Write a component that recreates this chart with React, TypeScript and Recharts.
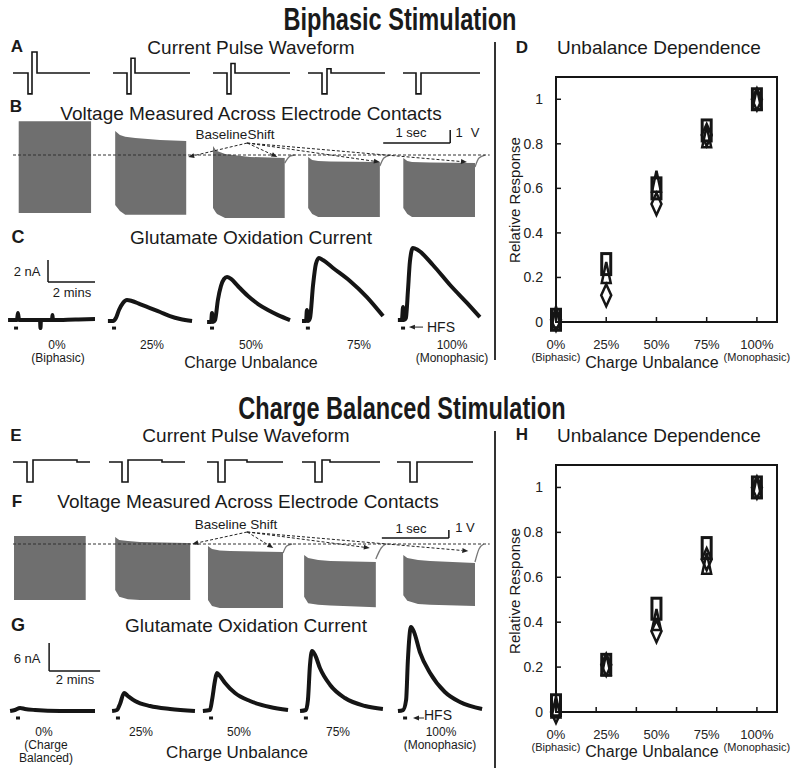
import React from 'react'
import {
  Area,
  ComposedChart,
  Line,
  ReferenceArea,
  ReferenceLine,
  Scatter,
  ScatterChart,
  XAxis,
  YAxis,
} from 'recharts'

const FONT = '"Liberation Sans", Arial, sans-serif'
const INK = '#151515'
const GREY = '#6f6f6f'

// A: biphasic current pulses (t in ms, current relative to the cathodic phase)
const pulseA1 = [[0.3, 0], [1.8, 0], [1.8, -1], [2.2, -1], [2.2, 1], [2.7, 1], [2.7, 0], [8.0, 0]]
const pulseA2 = [[10.3, 0], [11.7, 0], [11.7, -1], [12.1, -1], [12.1, 0.7], [12.5, 0.7], [12.5, 0], [18.0, 0]]
const pulseA3 = [[20.3, 0], [21.7, 0], [21.7, -1], [22.1, -1], [22.1, 0.45], [22.5, 0.45], [22.5, 0], [28.0, 0]]
const pulseA4 = [[29.8, 0], [31.2, 0], [31.2, -1], [31.7, -1], [31.7, 0.2], [32.1, 0.2], [32.1, 0], [37.5, 0]]
const pulseA5 = [[39.3, 0], [40.6, 0], [40.6, -1], [41.1, -1], [41.1, 0], [47.0, 0]]

// E: charge balanced pulses
const pulseE1 = [[0.3, 0], [1.7, 0], [1.7, -1], [2.3, -1], [2.3, 0.1], [6.7, 0.1], [6.7, 0], [8.0, 0]]
const pulseE2 = [[9.9, 0], [11.2, 0], [11.2, -1], [11.8, -1], [11.8, 0.1], [15.2, 0.1], [15.2, 0], [17.5, 0]]
const pulseE3 = [[19.7, 0], [20.8, 0], [20.8, -1], [21.5, -1], [21.5, 0.1], [23.7, 0.1], [23.7, 0], [27.3, 0]]
const pulseE4 = [[29.2, 0], [30.5, 0], [30.5, -1], [31.2, -1], [31.2, 0.1], [32.0, 0.1], [32.0, 0], [37.0, 0]]
const pulseE5 = [[38.7, 0], [40.0, 0], [40.0, -1], [40.7, -1], [40.7, 0], [46.3, 0]]

// B: voltage envelope of the pulse trains [t (s), upper V, lower V]
const voltB1 = [[0.13, 2.6, -4.46], [1.21, 2.6, -4.46]]
const voltB2 = [[1.57, 1.85, -3.85], [1.64, 1.54, -4.3], [1.72, 1.4, -4.6], [1.87, 1.31, -4.6], [2.24, 1.15, -4.6], [2.63, 1.08, -4.6]]
const voltB3 = [[3.03, 0.69, -4.08], [3.07, 0.38, -4.4], [3.09, 0.3, -4.54], [3.21, 0.08, -4.85], [3.58, -0.15, -4.85], [4.1, -0.23, -4.85]]
const voltB4 = [[4.45, -0.15, -4.08], [4.51, -0.38, -4.54], [4.6, -0.46, -4.77], [4.78, -0.5, -4.77], [5.52, -0.54, -4.77]]
const voltB5 = [[5.87, -0.23, -4.08], [5.93, -0.46, -4.54], [6.0, -0.54, -4.77], [6.27, -0.58, -4.77], [6.94, -0.62, -4.77]]
const recoverB3 = [[4.1, -0.62], [4.18, -0.08], [4.25, 0]]
const recoverB4 = [[5.52, -0.85], [5.58, -0.23], [5.67, 0]]
const recoverB5 = [[6.94, -0.92], [7.0, -0.23], [7.09, 0]]
const shiftFromB = [3.54, 0.92]
const shiftToB = [[2.66, -0.15], [3.99, -0.15], [5.52, -0.54], [6.82, -0.54]]

// F: charge balanced voltage envelope
const voltF1 = [[0.06, 1.0, -7.0], [1.13, 1.0, -7.0]]
const voltF2 = [[1.57, 0.875, -5.75], [1.63, 0.5, -6.6], [1.76, 0.375, -6.9], [1.94, 0.25, -7.0], [2.64, 0.125, -7.0], [2.69, 0.125, -7.0]]
const voltF3 = [[2.955, -0.25, -7.0], [3.015, -0.625, -7.75], [3.13, -0.8, -8.0], [3.28, -0.875, -8.0], [4.075, -1.0, -8.0]]
const voltF4 = [[4.39, -1.375, -6.6], [4.45, -1.75, -7.4], [4.6, -2.0, -7.6], [4.78, -2.125, -7.7], [5.46, -2.25, -7.9]]
const voltF5 = [[5.87, -1.375, -6.4], [5.93, -1.75, -7.1], [6.09, -2.0, -7.5], [6.27, -2.125, -7.6], [6.94, -2.375, -7.75]]
const recoverF3 = [[4.075, -1.125], [4.13, -0.25], [4.21, 0]]
const recoverF4 = [[5.46, -1.875], [5.54, -0.5], [5.61, 0]]
const recoverF5 = [[6.94, -2.25], [7.0, -0.625], [7.07, 0]]
const shiftFromF = [3.54, 1.5]
const shiftToF = [[2.72, 0], [3.93, -0.5], [5.37, -0.5], [6.84, -0.875]]

// C: glutamate oxidation current, biphasic [t (min), nA]
const glutC1 = [[0.13, 0], [0.51, 0], [0.55, 0.64], [0.6, 0], [1.49, 0], [1.51, -0.73], [1.53, 0], [2.0, 0], [2.02, 0.45], [2.04, 0], [3.0, 0.05], [3.83, 0.09]]
const glutC2 = [[4.38, -0.09], [4.6, -0.09], [4.72, 0.18], [4.85, 0.91], [5.02, 1.55], [5.19, 1.82], [5.4, 1.73], [5.74, 1.45], [6.17, 1.09], [6.6, 0.73], [7.02, 0.36], [7.45, 0.09], [7.96, -0.09]]
const glutC3 = [[8.6, -0.18], [8.77, -0.18], [8.81, 0.64], [8.85, -0.18], [8.94, 0], [9.06, 1.82], [9.19, 3.09], [9.32, 3.73], [9.45, 3.91], [9.62, 3.73], [9.91, 3.09], [10.34, 2.18], [10.77, 1.45], [11.19, 0.91], [11.62, 0.45], [12.13, 0]]
const glutC4 = [[12.64, -0.09], [12.81, -0.09], [12.85, 0.91], [12.89, -0.09], [12.98, 0.18], [13.11, 3.18], [13.23, 5.09], [13.36, 5.64], [13.53, 5.45], [13.96, 4.73], [14.68, 3.55], [15.4, 2.09], [16.09, 0.36]]
const glutC5 = [[16.72, 0], [16.89, 0], [16.94, 1.18], [16.98, 0], [17.06, 0.18], [17.15, 2.73], [17.23, 5.27], [17.36, 6.55], [17.57, 6.36], [18.21, 5.0], [18.94, 3.18], [19.66, 1.55], [20.21, 0.27]]
const hfsC = [0.47, 4.64, 8.81, 12.89, 16.94]

// G: glutamate oxidation current, charge balanced [t (min), nA]
const glutG1 = [[0.2, 0], [0.39, 0.21], [0.59, 0.64], [0.78, 0.43], [1.18, 0.21], [2.16, 0], [3.53, 0]]
const glutG2 = [[4.2, 0], [4.39, 0.21], [4.51, 1.5], [4.67, 3.85], [4.82, 3.21], [5.1, 2.14], [5.69, 1.07], [6.47, 0.43], [7.45, 0]]
const glutG3 = [[7.76, 0], [8.04, 0.21], [8.12, 2.36], [8.24, 6.64], [8.31, 8.14], [8.43, 7.49], [8.63, 6.0], [9.02, 3.85], [9.61, 2.14], [10.39, 0.86], [11.1, 0.21]]
const glutG4 = [[11.57, 0], [11.8, 0.21], [11.88, 2.36], [11.96, 9.85], [12.04, 12.85], [12.16, 11.99], [12.35, 9.21], [12.75, 5.57], [13.33, 2.78], [14.12, 1.07], [14.82, 0.43]]
const glutG5 = [[15.41, 0], [15.61, 0.21], [15.73, 2.36], [15.8, 10.92], [15.92, 17.99], [16.04, 16.92], [16.27, 12.63], [16.67, 8.14], [17.25, 4.07], [17.84, 1.93], [18.71, 0.43]]
const hfsG = [0.51, 4.43, 8.08, 11.8, 15.69]

// D / H: relative response vs charge unbalance (%)
const unbalance = [0, 25, 50, 75, 100]
const unbalanceLabels = ['0%', '25%', '50%', '75%', '100%']
const dSquares = [0.01, 0.26, 0.6, 0.86, 1.0]
const dTriangles = [0.02, 0.22, 0.63, 0.83, 1.0]
const dDiamonds = [0.01, 0.12, 0.53, 0.84, 1.0]
const hSquares = [0.03, 0.21, 0.46, 0.73, 1.0]
const hTriangles = [0.02, 0.21, 0.41, 0.66, 1.0]
const hDiamonds = [0.0, 0.21, 0.36, 0.68, 1.0]
const responseTicks = [0, 0.2, 0.4, 0.6, 0.8, 1]

const toPath = (segs: number[][][]) =>
  segs.flatMap((s, i) => {
    const rows: { t: number; v: number | null }[] = s.map(([t, v]) => ({ t, v }))
    return i < segs.length - 1 ? [...rows, { t: s[s.length - 1][0] + 0.001, v: null }] : rows
  })

const toBand = (blocks: number[][][]) =>
  blocks.flatMap((b, i) => {
    const rows: { t: number; band: number[] | null }[] = b.map(([t, hi, lo]) => ({ t, band: [lo, hi] }))
    return i < blocks.length - 1 ? [...rows, { t: b[b.length - 1][0] + 0.005, band: null }] : rows
  })

const toPts = (ys: number[]) => unbalance.map((x, i) => ({ x, y: ys[i] }))

const arrowShape = (dashed: boolean) => (p: any) => {
  const { x1, y1, x2, y2 } = p
  const a = Math.atan2(y2 - y1, x2 - x1)
  const bx = x2 - 6 * Math.cos(a)
  const by = y2 - 6 * Math.sin(a)
  const nx = -Math.sin(a) * 2.4
  const ny = Math.cos(a) * 2.4
  return (
    <g>
      <line x1={x1} y1={y1} x2={bx} y2={by} stroke="#222" strokeWidth={1} strokeDasharray={dashed ? '3 2' : undefined} />
      <polygon points={`${x2},${y2} ${bx + nx},${by + ny} ${bx - nx},${by - ny}`} fill="#222" />
    </g>
  )
}

const hfsDot = (p: any) => (
  <rect key={`hfs-${p.index}`} x={p.cx - 2} y={p.cy - 1.5} width={4} height={3} fill={INK} />
)

function Txt({ x, y, s = 13, b = false, sx, rot, children }: any) {
  const tf = `translate(-50%, -50%)${rot ? ` rotate(${rot}deg)` : ''}${sx ? ` scaleX(${sx})` : ''}`
  return (
    <div
      style={{
        position: 'absolute',
        left: x,
        top: y,
        transform: tf,
        fontSize: s,
        fontWeight: b ? 700 : 400,
        whiteSpace: 'nowrap',
        lineHeight: 1,
        fontFamily: FONT,
        color: '#1a1a1a',
      }}
    >
      {children}
    </div>
  )
}

function TraceChart({ left, top, width, height, xMax, yDomain, data, children }: any) {
  return (
    <div style={{ position: 'absolute', left, top }}>
      <ComposedChart width={width} height={height} data={data} margin={{ top: 0, right: 0, bottom: 0, left: 0 }}>
        <XAxis type="number" dataKey="t" domain={[0, xMax]} hide allowDataOverflow />
        <YAxis type="number" domain={yDomain} hide allowDataOverflow />
        {children}
      </ComposedChart>
    </div>
  )
}

function VoltagePanel({ top, height, yDomain, blocks, hooks, from, to, bar }: any) {
  return (
    <TraceChart left={10} top={top} width={480} height={height} xMax={7.164} yDomain={yDomain} data={toBand(blocks)}>
      <Area dataKey="band" type="linear" stroke="none" fill={GREY} fillOpacity={1} isAnimationActive={false} />
      <Line data={toPath(hooks)} dataKey="v" type="monotone" stroke="#777" strokeWidth={1.3} dot={false} isAnimationActive={false} />
      <ReferenceLine segment={[{ x: 0.045, y: 0 }, { x: 7.16, y: 0 }]} stroke="#333" strokeWidth={1} strokeDasharray="3 2" ifOverflow="visible" />
      {to.map((p: number[], i: number) => (
        <ReferenceLine key={i} segment={[{ x: from[0], y: from[1] }, { x: p[0], y: p[1] }]} ifOverflow="visible" shape={arrowShape(true)} />
      ))}
      <ReferenceLine segment={[{ x: bar[0], y: bar[1] }, { x: bar[0] + 1, y: bar[1] }]} stroke={INK} strokeWidth={1.5} ifOverflow="visible" />
      <ReferenceLine segment={[{ x: bar[0] + 1, y: bar[1] }, { x: bar[0] + 1, y: bar[1] + 1 }]} stroke={INK} strokeWidth={1.5} ifOverflow="visible" />
    </TraceChart>
  )
}

function GlutPanel({ top, height, xMax, yDomain, traces, hfs, hfsLevel, arrow, bar }: any) {
  return (
    <TraceChart left={5} top={top} width={485} height={height} xMax={xMax} yDomain={yDomain}>
      <Line data={toPath(traces)} dataKey="v" type="monotone" stroke={INK} strokeWidth={4} strokeLinejoin="round" dot={false} isAnimationActive={false} />
      <Line data={hfs.map((t: number) => ({ t, v: hfsLevel }))} dataKey="v" stroke="none" dot={hfsDot} isAnimationActive={false} />
      <ReferenceLine segment={[{ x: arrow[0], y: hfsLevel + arrow[2] }, { x: arrow[1], y: hfsLevel + arrow[2] }]} ifOverflow="visible" shape={arrowShape(false)} />
      <ReferenceLine segment={[{ x: bar[0], y: bar[1] }, { x: bar[0], y: bar[1] + bar[2] }]} stroke={INK} strokeWidth={1.5} ifOverflow="visible" />
      <ReferenceLine segment={[{ x: bar[0], y: bar[1] }, { x: bar[0] + 2, y: bar[1] }]} stroke={INK} strokeWidth={1.5} ifOverflow="visible" />
    </TraceChart>
  )
}

function PulsePanel({ top, height, yDomain, pulses }: any) {
  return (
    <TraceChart left={10} top={top} width={480} height={height} xMax={48} yDomain={yDomain}>
      <Line data={toPath(pulses)} dataKey="v" type="linear" stroke={INK} strokeWidth={1.6} dot={false} isAnimationActive={false} />
    </TraceChart>
  )
}

const squareShape = (p: any) => (
  <rect x={p.cx - 4.5} y={p.cy - 10.5} width={9} height={21} fill="none" stroke={INK} strokeWidth={3} />
)
const triangleShape = (p: any) => (
  <polygon points={`${p.cx},${p.cy - 11} ${p.cx + 4.5},${p.cy + 10} ${p.cx - 4.5},${p.cy + 10}`} fill="none" stroke={INK} strokeWidth={2.5} />
)
const diamondShape = (p: any) => (
  <polygon points={`${p.cx},${p.cy - 11} ${p.cx + 5},${p.cy} ${p.cx},${p.cy + 11} ${p.cx - 5},${p.cy}`} fill="none" stroke={INK} strokeWidth={2.5} />
)

const yTick = (p: any) => (
  <g>
    <line x1={p.x + 13} x2={p.x + 18} y1={p.y} y2={p.y} stroke={INK} strokeWidth={1.5} />
    <text x={p.x} y={p.y} dy="0.35em" textAnchor="end" fontSize={14} fill="#222" fontFamily={FONT}>
      {p.payload.value}
    </text>
  </g>
)

const makeXTick = (marks: number[], subLabels: string[]) => (p: any) => {
  const v = p.payload.value
  const li = unbalance.indexOf(v)
  return (
    <g>
      {marks.includes(v) && <line x1={p.x} x2={p.x} y1={p.y} y2={p.y - 5} stroke={INK} strokeWidth={1.5} />}
      {li >= 0 && (
        <text x={p.x} y={p.y + 27} textAnchor="middle" fontSize={13} fill="#222" fontFamily={FONT}>
          {unbalanceLabels[li]}
        </text>
      )}
      {li >= 0 && subLabels[li] && (
        <text x={p.x} y={p.y + 39} textAnchor="middle" fontSize={11} fill="#222" fontFamily={FONT}>
          {subLabels[li]}
        </text>
      )}
    </g>
  )
}

function DependencePlot({ top, height, mTop, mBottom, marks, squares, triangles, diamonds, subLabels }: any) {
  const xTicks = Array.from(new Set([...unbalance, ...marks])).sort((a: any, b: any) => a - b)
  return (
    <div style={{ position: 'absolute', left: 490, top }}>
      <ScatterChart width={310} height={height} margin={{ top: mTop, right: 23, left: 26, bottom: mBottom }}>
        <XAxis type="number" dataKey="x" domain={[0, 110]} ticks={xTicks} interval={0} axisLine={false} tickLine={false} tickSize={0} tickMargin={0} height={30} tick={makeXTick(marks, subLabels)} />
        <YAxis type="number" dataKey="y" domain={[0, 1.1]} ticks={responseTicks} interval={0} axisLine={false} tickLine={false} tickSize={0} tickMargin={13} width={40} tick={yTick} />
        <ReferenceArea x1={0} x2={110} y1={0} y2={1.1} fill="none" stroke={INK} strokeWidth={2} />
        <Scatter data={toPts(squares)} shape={squareShape} isAnimationActive={false} />
        <Scatter data={toPts(triangles)} shape={triangleShape} isAnimationActive={false} />
        <Scatter data={toPts(diamonds)} shape={diamondShape} isAnimationActive={false} />
      </ScatterChart>
    </div>
  )
}

const labelXC = [57, 152, 251, 359, 452]
const labelXG = [44, 141, 239, 338, 441]

export default function App() {
  return (
    <div style={{ position: 'absolute', left: 0, top: 0, width: 800, height: 771, background: '#fff', overflow: 'hidden' }}>
      <Txt x={400} y={19} s={31} b sx={0.76}>Biphasic Stimulation</Txt>
      <Txt x={402} y={408} s={31} b sx={0.76}>Charge Balanced Stimulation</Txt>

      <div style={{ position: 'absolute', left: 494, top: 42, width: 2, height: 318, background: '#333' }} />
      <div style={{ position: 'absolute', left: 494, top: 431, width: 2, height: 337, background: '#333' }} />

      {/* A */}
      <Txt x={17} y={46} s={17} b>A</Txt>
      <Txt x={251} y={47} s={19}>Current Pulse Waveform</Txt>
      <PulsePanel top={44} height={56} yDomain={[-1.29, 1.38]} pulses={[pulseA1, pulseA2, pulseA3, pulseA4, pulseA5]} />

      {/* B */}
      <Txt x={16} y={106} s={17} b>B</Txt>
      <Txt x={251} y={113} s={19}>Voltage Measured Across Electrode Contacts</Txt>
      <VoltagePanel top={110} height={112} yDomain={[-5.15, 3.46]} blocks={[voltB1, voltB2, voltB3, voltB4, voltB5]} hooks={[recoverB3, recoverB4, recoverB5]} from={shiftFromB} to={shiftToB} bar={[5.57, 0.92]} />
      <Txt x={235} y={135} s={13.5}>BaselineShift</Txt>
      <Txt x={411} y={132} s={13}>1 sec</Txt>
      <Txt x={459} y={132} s={13}>1</Txt>
      <Txt x={475} y={132} s={13}>V</Txt>

      {/* C */}
      <Txt x={18} y={237} s={18} b>C</Txt>
      <Txt x={251} y={237} s={19}>Glutamate Oxidation Current</Txt>
      <GlutPanel top={240} height={96} xMax={20.64} yDomain={[-1.45, 7.27]} traces={[glutC1, glutC2, glutC3, glutC4, glutC5]} hfs={hfsC} hfsLevel={-0.73} arrow={[17.79, 17.19, 0.09]} bar={[1.83, 3.45, 2]} />
      <Txt x={27} y={271} s={13}>2 nA</Txt>
      <Txt x={72} y={292} s={13}>2 mins</Txt>
      <Txt x={441} y={327} s={14}>HFS</Txt>
      {unbalanceLabels.map((l, i) => (
        <Txt key={l} x={labelXC[i]} y={345} s={12}>{l}</Txt>
      ))}
      <Txt x={58} y={358} s={12}>(Biphasic)</Txt>
      <Txt x={452} y={358} s={12}>(Monophasic)</Txt>
      <Txt x={251} y={363} s={16}>Charge Unbalance</Txt>

      {/* D */}
      <Txt x={522} y={47} s={17} b>D</Txt>
      <Txt x={659} y={47} s={19}>Unbalance Dependence</Txt>
      <Txt x={514} y={200} s={15} rot={-90}>Relative Response</Txt>
      <DependencePlot top={30} height={345} mTop={47} mBottom={23} marks={[25, 50, 75, 100]} squares={dSquares} triangles={dTriangles} diamonds={dDiamonds} subLabels={['(Biphasic)', '', '', '', '(Monophasic)']} />
      <Txt x={652} y={363} s={16}>Charge Unbalance</Txt>

      {/* E */}
      <Txt x={16} y={435} s={17} b>E</Txt>
      <Txt x={246} y={435} s={19}>Current Pulse Waveform</Txt>
      <PulsePanel top={444} height={46} yDomain={[-1.4, 0.9]} pulses={[pulseE1, pulseE2, pulseE3, pulseE4, pulseE5]} />

      {/* F */}
      <Txt x={17} y={501} s={17} b>F</Txt>
      <Txt x={248} y={501} s={19}>Voltage Measured Across Electrode Contacts</Txt>
      <VoltagePanel top={520} height={95} yDomain={[-8.875, 3.0]} blocks={[voltF1, voltF2, voltF3, voltF4, voltF5]} hooks={[recoverF3, recoverF4, recoverF5]} from={shiftFromF} to={shiftToF} bar={[5.55, 0.75]} />
      <Txt x={236} y={525} s={13.5}>Baseline Shift</Txt>
      <Txt x={411} y={528} s={13}>1 sec</Txt>
      <Txt x={465} y={527} s={13}>1 V</Txt>

      {/* G */}
      <Txt x={18} y={625} s={18} b>G</Txt>
      <Txt x={246} y={625} s={19}>Glutamate Oxidation Current</Txt>
      <GlutPanel top={615} height={110} xMax={19.02} yDomain={[-3.0, 20.56]} traces={[glutG1, glutG2, glutG3, glutG4, glutG5]} hfs={hfsG} hfsLevel={-1.5} arrow={[16.43, 16.0, 0]} bar={[1.73, 8.57, 6]} />
      <Txt x={27} y={658} s={13}>6 nA</Txt>
      <Txt x={75} y={679} s={13}>2 mins</Txt>
      <Txt x={438} y={715} s={14}>HFS</Txt>
      {unbalanceLabels.map((l, i) => (
        <Txt key={l} x={labelXG[i]} y={732} s={12}>{l}</Txt>
      ))}
      <Txt x={46} y={745} s={12}>(Charge</Txt>
      <Txt x={46} y={758} s={12}>Balanced)</Txt>
      <Txt x={440} y={745} s={12}>(Monophasic)</Txt>
      <Txt x={237} y={752} s={17}>Charge Unbalance</Txt>

      {/* H */}
      <Txt x={522} y={434} s={17} b>H</Txt>
      <Txt x={659} y={435} s={19}>Unbalance Dependence</Txt>
      <Txt x={514} y={591} s={15} rot={-90}>Relative Response</Txt>
      <DependencePlot top={440} height={330} mTop={25} mBottom={28} marks={[20, 40, 60, 80, 100]} squares={hSquares} triangles={hTriangles} diamonds={hDiamonds} subLabels={['(Biphasic)', '', '', '', '(Monophasic)']} />
      <Txt x={652} y={752} s={16}>Charge Unbalance</Txt>
    </div>
  )
}
